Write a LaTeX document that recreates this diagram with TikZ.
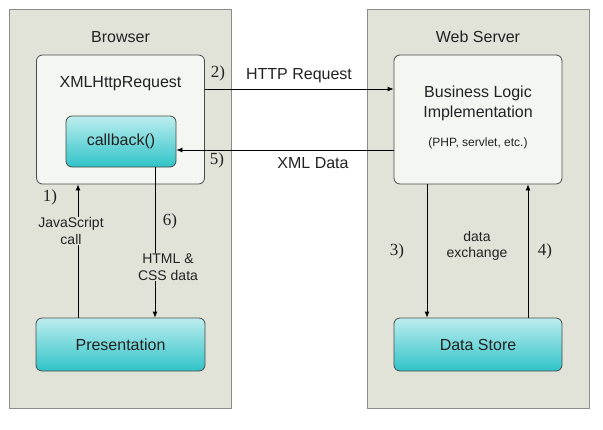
\documentclass[tikz,border=0pt]{standalone}
\usepackage{fontspec}
\setmainfont{Liberation Sans}
\newfontfamily\stepfont{Liberation Serif}
\usetikzlibrary{arrows.meta,positioning}

\definecolor{panelbg}{HTML}{E1E3D9}
\definecolor{panelline}{HTML}{8C8C88}
\definecolor{boxbg}{HTML}{F4F6F2}
\definecolor{boxline}{HTML}{4A4A4A}
\definecolor{tealtop}{HTML}{BDEDEF}
\definecolor{tealbot}{HTML}{2FC3C7}
\definecolor{inktext}{HTML}{222222}

\begin{document}
\begin{tikzpicture}[x=1pt,y=-1pt,>={Latex[length=6pt,width=5pt]},
  panel/.style={draw=panelline,fill=panelbg,line width=1pt,
    minimum width=222pt,minimum height=399pt,inner sep=0pt},
  whitebox/.style={draw=boxline,fill=boxbg,rounded corners=6pt,line width=0.8pt,
    minimum width=168pt,minimum height=129pt,inner sep=0pt},
  tealbox/.style={draw=boxline,top color=tealtop,bottom color=tealbot,
    rounded corners=6pt,line width=0.8pt,inner sep=0pt,text=inktext,
    font=\fontsize{16}{19}\selectfont},
  num/.style={text=inktext,font=\stepfont\fontsize{17}{20}\selectfont},
  lbl/.style={text=inktext,font=\fontsize{16}{19}\selectfont,align=center},
  small/.style={text=inktext,font=\fontsize{14}{16.5}\selectfont,align=center,
    fill=panelbg,inner sep=1pt},
  link/.style={->,line width=0.8pt}]
  \useasboundingbox (0,0) rectangle (603,429);

  % the two sides
  \node[panel] (browser) at (120.5,208.5) {};
  \node[panel] (server) at (478,208.5) {};
  \node[lbl] (browsertitle) at (120.5,37) {Browser};
  \node[lbl] (servertitle) at (478,37) {Web Server};

  % boxes
  \node[whitebox] (xhr) at (120.5,119.5) {};
  \node[lbl] (xhrtitle) at (120.5,84) {XMLHttpRequest};
  \node[tealbox,minimum width=110pt,minimum height=51pt] (callback) at (121,141.5) {callback()};
  \node[whitebox] (logic) at (478,119.5) {};
  \node[lbl,font=\fontsize{16}{19.5}\selectfont] (logictitle) at (478,103.5)
    {Business Logic\\Implementation};
  \node[lbl,font=\fontsize{12}{14}\selectfont] (logicnote) at (478,143) {(PHP, servlet, etc.)};
  \node[tealbox,minimum width=169pt,minimum height=53pt] (present) at (120.5,344.5) {Presentation};
  \node[tealbox,minimum width=168pt,minimum height=53pt] (store) at (478,344.5) {Data Store};

  % connectors
  \coordinate (httpout) at ([yshift=30.5pt]xhr.east);
  \draw[link] (httpout) -- (httpout -| logic.west);
  \coordinate (xmlout) at ([yshift=-30.5pt]logic.west);
  \draw[link] (xmlout) -- (xmlout -| callback.east);
  \coordinate (jsout) at ([xshift=-42.5pt]present.north);
  \draw[link] (jsout) -- (jsout |- xhr.south);
  \coordinate (cbout) at ([xshift=34pt]callback.south);
  \draw[link] (cbout) -- (cbout |- present.north);
  \coordinate (dbin) at ([xshift=-51pt]logic.south);
  \draw[link] (dbin) -- (dbin |- store.north);
  \coordinate (dbout) at ([xshift=50pt]store.north);
  \draw[link] (dbout) -- (dbout |- logic.south);

  % labels
  \node[num] (step2) at (218,73) {2)};
  \node[lbl] (httplabel) at (299,76) {HTTP Request};
  \node[num] (step5) at (217,160) {5)};
  \node[lbl] (xmllabel) at (313,163) {XML Data};
  \node[num] (step1) at (50,197) {1)};
  \node[small] (jslabel) at (71,231) {JavaScript\\call};
  \node[num] (step6) at (170,221) {6)};
  \node[small] (htmllabel) at (168,267) {HTML \&\\CSS data};
  \node[num] (step3) at (397,251) {3)};
  \node[num] (step4) at (545,251) {4)};
  \node[small] (dblabel) at (477,246) {data\\exchange};
\end{tikzpicture}
\end{document}
